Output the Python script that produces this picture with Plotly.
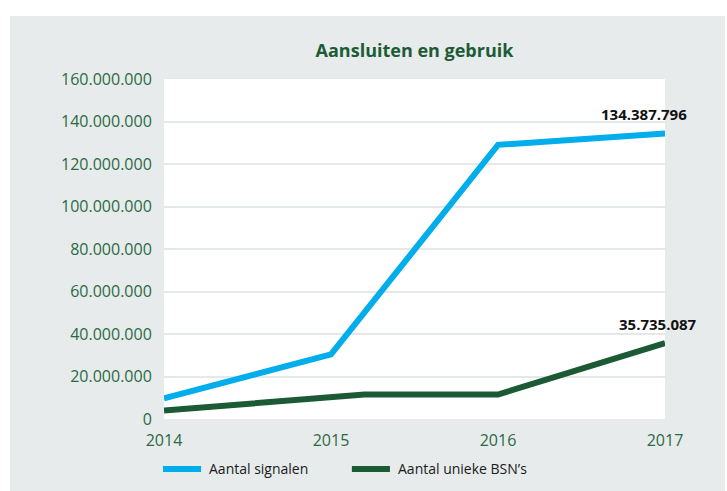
import plotly.graph_objects as go

# Data
years_signalen = [2014, 2015, 2016, 2017]
aantal_signalen = [9_700_000, 30_400_000, 129_000_000, 134_387_796]

years_bsn = [2014, 2015.2, 2016, 2017]
aantal_bsn = [4_000_000, 11_500_000, 11_500_000, 35_735_087]

year_ticks = [2014, 2015, 2016, 2017]
y_ticks = list(range(0, 160_000_001, 20_000_000))

BLUE = "#01adeb"
GREEN = "#1c5a35"
TICK_GREEN = "#2b6a45"
PANEL = "#e7ebeb"
FONT = "Open Sans"

fig = go.Figure()

fig.add_trace(go.Scatter(
    x=years_signalen, y=aantal_signalen, mode="lines",
    name="Aantal signalen",
    line=dict(color=BLUE, width=6),
    cliponaxis=False,
))
fig.add_trace(go.Scatter(
    x=years_bsn, y=aantal_bsn, mode="lines",
    name="Aantal unieke BSN’s",
    line=dict(color=GREEN, width=6),
    cliponaxis=False,
))

# Value labels at the last point of each series
def fmt(v):
    return f"{v:,}".replace(",", ".")

fig.add_annotation(x=years_signalen[-1], y=aantal_signalen[-1],
                   text=f"<b>{fmt(aantal_signalen[-1])}</b>", showarrow=False,
                   xshift=-21, yshift=19,
                   font=dict(family=FONT, size=15, color="#111111"))
fig.add_annotation(x=years_bsn[-1], y=aantal_bsn[-1],
                   text=f"<b>{fmt(aantal_bsn[-1])}</b>", showarrow=False,
                   xshift=-7, yshift=19,
                   font=dict(family=FONT, size=15, color="#111111"))

# White page strips around the grey panel
for x0, x1, y0, y1 in [(-1, 2, 1.185, 2), (-1, -0.3074, -1, 2), (1.1198, 2, -1, 2)]:
    fig.add_shape(type="rect", xref="paper", yref="paper",
                  x0=x0, x1=x1, y0=y0, y1=y1,
                  fillcolor="white", line=dict(width=0), layer="below")

# Legend below the plot: a long line sample followed by the series name
legend_y = -0.147
for trace, x0, x1 in [(fig.data[0], -0.002, 0.074), (fig.data[1], 0.375, 0.451)]:
    fig.add_shape(type="line", xref="paper", yref="paper",
                  x0=x0, x1=x1, y0=legend_y, y1=legend_y,
                  line=dict(color=trace.line.color, width=6))
    fig.add_annotation(xref="paper", yref="paper", x=x1 + 0.012, y=legend_y,
                       text=trace.name, showarrow=False,
                       xanchor="left", yanchor="middle",
                       font=dict(family=FONT, size=14, color="#1a1a1a"))

fig.update_layout(
    width=727, height=491,
    margin=dict(l=164, r=62, t=79, b=72, autoexpand=False),
    paper_bgcolor=PANEL,
    plot_bgcolor="white",
    separators=",.",
    font=dict(family=FONT, color=TICK_GREEN),
    title=dict(text="<b>Aansluiten en gebruik</b>", x=(164 + 665) / 2 / 727,
               xanchor="center", y=1 - 51 / 491, yanchor="middle",
               font=dict(family=FONT, size=18, color="#1d5a37")),
    xaxis=dict(range=[2014, 2017], tickvals=year_ticks,
               showgrid=False, zeroline=False, showline=False,
               ticks="outside", ticklen=7, tickcolor="rgba(0,0,0,0)",
               tickfont=dict(family=FONT, size=16, color=TICK_GREEN)),
    yaxis=dict(range=[0, 160_000_000], tickvals=y_ticks, tickformat=",d",
               showgrid=True, gridcolor="#e4e9e8", gridwidth=2,
               zeroline=False, showline=False,
               ticks="outside", ticklen=8, tickcolor="rgba(0,0,0,0)",
               tickfont=dict(family=FONT, size=16, color=TICK_GREEN)),
    showlegend=False,
)

fig.write_html("out.html")
